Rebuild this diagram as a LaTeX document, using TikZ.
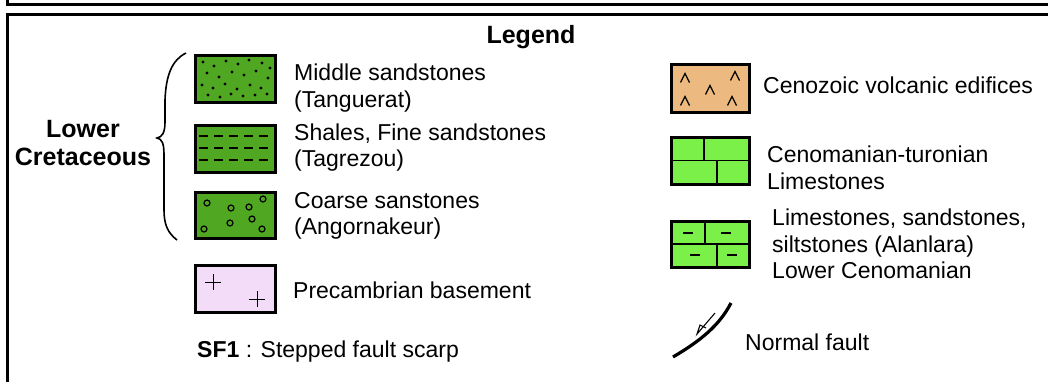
\documentclass[tikz,border=0pt]{standalone}
\usepackage{fontspec}
\setmainfont{Liberation Sans}
\definecolor{sandgreen}{RGB}{80,168,34}
\definecolor{limegreen}{RGB}{122,240,72}
\definecolor{volctan}{RGB}{236,186,128}
\definecolor{basepink}{RGB}{243,220,247}
\begin{document}
\begin{tikzpicture}[x=1pt,y=-1pt,
  frame/.style={line width=3pt, line cap=rect},
  swatch/.style={draw=black, line width=3pt},
  inner/.style={line width=1pt, black},
  lbl/.style={anchor=west, align=left, inner sep=0pt, font=\fontsize{23}{26.5}\selectfont},
  blbl/.style={inner sep=0pt, align=center, font=\fontsize{25}{28.5}\selectfont\bfseries},
]
\useasboundingbox (0,0) rectangle (1048,381);
% frames
\draw[frame] (7,-3) -- (7,4) -- (1052,4);
\draw[frame] (1052,14.5) -- (7,14.5) -- (7,385);

\node[blbl] (legend) at (531,37) {Legend};

% ---------- left column ----------
% Middle sandstones
\fill[sandgreen] (195,55) rectangle (275,102);
\foreach \p in {(203,62),(214,66),(226,61),(238,64),(249,60),(262,63),(270,68),
                (207,73),(219,77),(232,72),(244,75),(256,71),(268,78),
                (202,85),(213,88),(225,84),(237,89),(250,85),(261,88),
                (208,95),(220,97),(231,94),(243,96),(255,95),(267,94)}
  \fill[black] \p circle (1.6);
\draw[swatch] (195,55) rectangle (275,102);
\node[lbl] (mid) at (294,88) {Middle sandstones\\(Tanguerat)};

% Shales
\fill[sandgreen] (195,125) rectangle (275,172);
\foreach \y in {136,148,160}
  \draw[inner, line width=1.3pt, dash pattern=on 9pt off 6pt, dash phase=-2pt] (197,\y) -- (273,\y);
\draw[swatch] (195,125) rectangle (275,172);
\node[lbl] (sha) at (294,147.5) {Shales, Fine sandstones\\(Tagrezou)};

% Coarse
\fill[sandgreen] (195,192) rectangle (275,238);
\foreach \p in {(207,203),(231,208),(249,207),(263,199),(230,223),(252,219),(204,229),(262,229)}
  \draw[inner, line width=1.2pt] \p circle (3);
\draw[swatch] (195,192) rectangle (275,238);
\node[lbl] (coa) at (294,216) {Coarse sanstones\\(Angornakeur)};

% Precambrian
\fill[basepink] (195,265) rectangle (275,312);
\draw[inner] (205,282) -- (221,282) (213,274) -- (213,290);
\draw[inner] (249,299) -- (265,299) (257,291) -- (257,307);
\draw[swatch] (195,265) rectangle (275,312);
\node[lbl] (pre) at (293,290) {Precambrian basement};

\node[lbl] (sf) at (197,352) {\textbf{SF1} : Stepped fault scarp};

% brace and label
\draw[line width=1.6pt] (186,53) .. controls (172,60) and (166,75) .. (165,100)
   -- (165,122) .. controls (165,133) and (162,137) .. (157,138)
   .. controls (162,139) and (164,143) .. (164,155)
   -- (164,210) .. controls (164,225) and (168,233) .. (177,240);
\node[blbl] (lc) at (83,143) {Lower\\Cretaceous};

% ---------- right column ----------
% Cenozoic volcanic
\fill[volctan] (671,64) rectangle (749,112);
\foreach \p in {(685,78),(735,76),(710,90),(685,101),(732,101)}
  \draw[inner, line width=1.2pt] \p ++(-4.5,4.5) -- ++(4.5,-9) -- ++(4.5,9);
\draw[swatch] (671,64) rectangle (749,112);
\node[lbl] (cen) at (763,85) {Cenozoic volcanic edifices};

% Cenomanian-turonian
\fill[limegreen] (671,137) rectangle (749,184);
\draw[line width=1.6pt] (671,160.5) -- (749,160.5) (704,137) -- (704,160.5) (717,160.5) -- (717,184);
\draw[swatch] (671,137) rectangle (749,184);
\node[lbl] (ct) at (767,168) {Cenomanian-turonian\\Limestones};

% Alanlara
\fill[limegreen] (671,221) rectangle (749,267);
\draw[line width=1.6pt] (671,244) -- (749,244) (705,221) -- (705,244) (717,244) -- (717,267);
\draw[inner, line width=1.6pt] (683,233) -- (693,233) (721,233) -- (731,233)
   (690,255) -- (700,255) (727,255) -- (737,255);
\draw[swatch] (671,221) rectangle (749,267);
\node[lbl] (ala) at (772,244) {Limestones, sandstones,\\siltstones (Alanlara)\\Lower Cenomanian};

% Normal fault
\coordinate (f1) at (673,357);
\coordinate (f2) at (731,303);
\draw[line width=3.2pt] (f1) .. controls (700,341) and (719,326) .. (f2);
\coordinate (a1) at (715,313);
\coordinate (a2) at (697,334);
\draw[line width=1.1pt] (a1) -- (a2) -- (700,325) -- (706,328);
\node[lbl] (nf) at (745,342) {Normal fault};
\end{tikzpicture}
\end{document}
